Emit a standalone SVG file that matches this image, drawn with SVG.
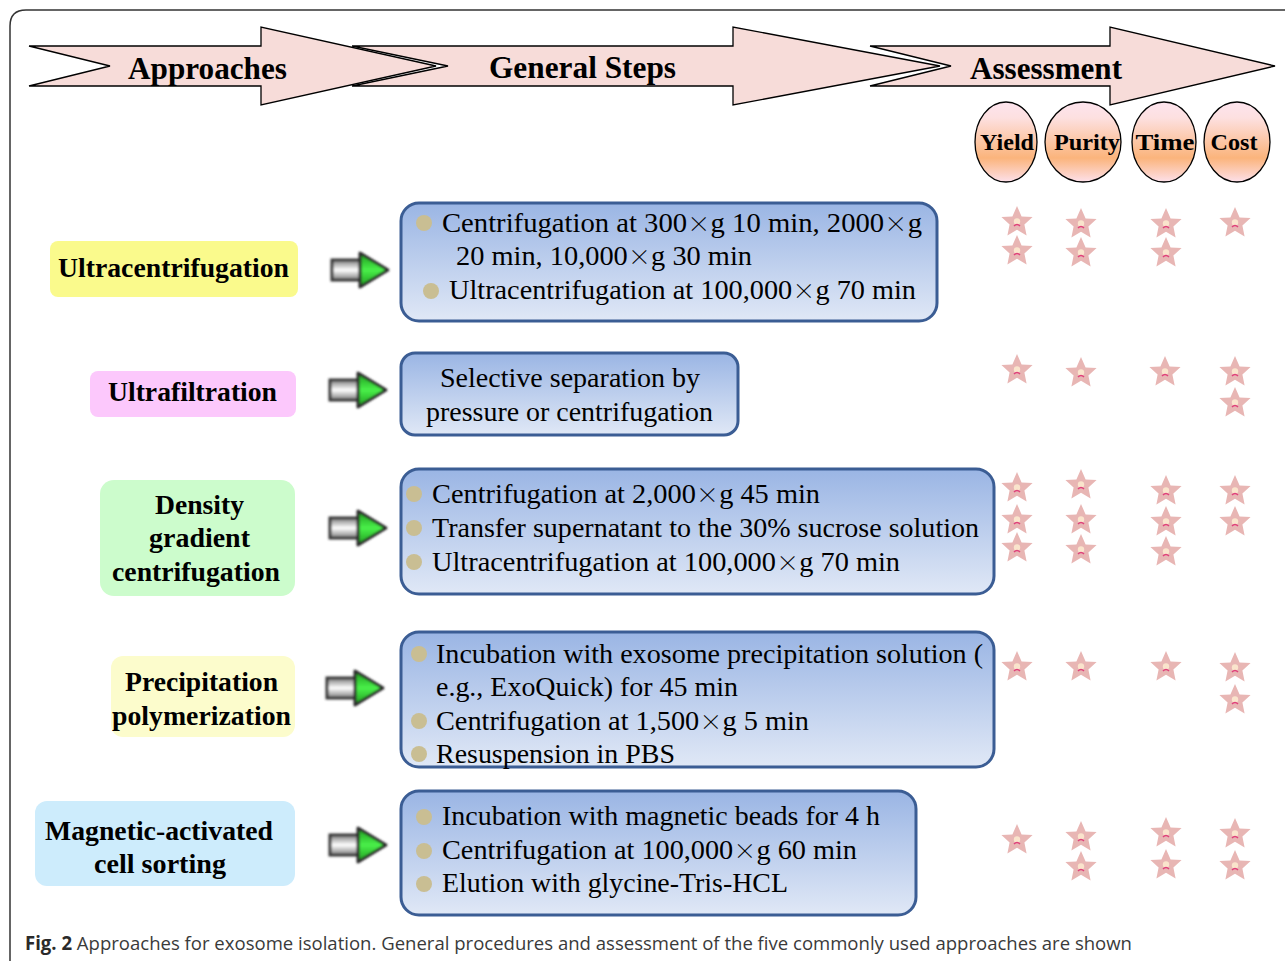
<svg xmlns="http://www.w3.org/2000/svg" xmlns:xlink="http://www.w3.org/1999/xlink" width="1285" height="961" viewBox="0 0 1285 961">
<style>
.frame{fill:none;stroke:#333;stroke-width:1.5}
.harrow{fill:#f7dcd9;stroke:#000;stroke-width:1.3;stroke-linejoin:miter}
.serif{font-family:'Liberation Serif','Times New Roman',serif}
.x{font-family:'Noto Serif CJK SC','Noto Sans CJK SC',serif;font-size:23px}
.htxt{font-weight:bold;font-size:31px;fill:#000}
.ell{stroke:#000;stroke-width:1.3;fill:url(#gOrange)}
.etxt{font-weight:bold;font-size:24px;fill:#000;text-anchor:middle}
.ltxt{font-weight:bold;font-size:28px;fill:#000}
.step{fill:url(#gBlue);stroke:#3b5d94;stroke-width:3}
.stxt{font-size:28px;fill:#000}
.bul{fill:#c9be93}
.cap{font-family:'Open Sans',sans-serif;font-size:19px;fill:#3a3a3a}
</style>
<defs>
<linearGradient id="gOrange" x1="0" y1="0" x2="0" y2="1">
<stop offset="0" stop-color="#fde4ee"/>
<stop offset="0.2" stop-color="#fde0e0"/>
<stop offset="0.7" stop-color="#fbb47c"/>
<stop offset="1" stop-color="#fde0ea"/>
</linearGradient>
<linearGradient id="gBlue" x1="0" y1="0" x2="0" y2="1">
<stop offset="0" stop-color="#9ab5e4"/>
<stop offset="1" stop-color="#e0e8f6"/>
</linearGradient>
<linearGradient id="gShaft" x1="0" y1="0" x2="0" y2="1">
<stop offset="0" stop-color="#7a7a7a"/>
<stop offset="0.5" stop-color="#ffffff"/>
<stop offset="1" stop-color="#7a7a7a"/>
</linearGradient>
<linearGradient id="gHead" x1="0" y1="0" x2="0" y2="1">
<stop offset="0" stop-color="#1c9a1c"/>
<stop offset="0.5" stop-color="#4af04a"/>
<stop offset="1" stop-color="#1c9a1c"/>
</linearGradient>
<filter id="soft" x="-20%" y="-30%" width="140%" height="160%">
<feGaussianBlur stdDeviation="1.2"/>
</filter>
<g id="garrow" filter="url(#soft)">
<rect x="0" y="-10" width="30" height="20" fill="url(#gShaft)" stroke="#3a3a3a" stroke-width="3"/>
<polygon points="28,-17 56,0 28,17" fill="url(#gHead)" stroke="#2a2a2a" stroke-width="3" stroke-linejoin="round"/>
</g>
<g id="star">
<polygon points="0,-16 4.6,-5.6 15.6,-4.9 7.4,2.4 9.6,13.4 0,7.8 -9.6,13.4 -7.4,2.4 -15.6,-4.9 -4.6,-5.6" fill="#e8b6b4"/>
<circle cx="0" cy="-0.5" r="3.2" fill="#fae4cc"/>
<path d="M-3,4 Q0,1 3,4" fill="none" stroke="#e0407a" stroke-width="1.5"/>
</g>
</defs>

<path class="frame" d="M10,961 L10,26 Q10,10 26,10 L1285,10"/>

<g id="header" class="serif">
<polygon class="harrow" points="29,46 261,46 261,27 436,66 261,105 261,86 29,86 110,66"/>
<polygon class="harrow" points="352,46 733,46 733,27 940,66 733,105 733,86 352,86 448,66"/>
<polygon class="harrow" points="870,46 1110,46 1110,27 1275,66 1110,105 1110,86 870,86 951,66"/>
<text class="htxt" x="128" y="79" textLength="159" lengthAdjust="spacingAndGlyphs">Approaches</text>
<text class="htxt" x="489" y="78" textLength="187" lengthAdjust="spacingAndGlyphs">General Steps</text>
<text class="htxt" x="970" y="79" textLength="152" lengthAdjust="spacingAndGlyphs">Assessment</text>
</g>

<g id="criteria" class="serif">
<ellipse class="ell" cx="1006" cy="142" rx="31" ry="40"/>
<ellipse class="ell" cx="1083" cy="142" rx="38" ry="40"/>
<ellipse class="ell" cx="1164" cy="142" rx="32" ry="40"/>
<ellipse class="ell" cx="1237" cy="142" rx="33" ry="40"/>
<text class="etxt" x="1007" y="150" textLength="54" lengthAdjust="spacingAndGlyphs">Yield</text>
<text class="etxt" x="1087" y="150" textLength="66" lengthAdjust="spacingAndGlyphs">Purity</text>
<text class="etxt" x="1165" y="150" textLength="59" lengthAdjust="spacingAndGlyphs">Time</text>
<text class="etxt" x="1234" y="150" textLength="47" lengthAdjust="spacingAndGlyphs">Cost</text>
</g>

<g id="approach-ultracentrifugation" class="serif">
<rect x="50" y="241" width="248" height="56" rx="8" fill="#fafa8c"/>
<text class="ltxt" x="58" y="277" textLength="231" lengthAdjust="spacingAndGlyphs">Ultracentrifugation</text>
</g>
<g id="approach-ultrafiltration" class="serif">
<rect x="90" y="371" width="206" height="46" rx="8" fill="#fcc8fc"/>
<text class="ltxt" x="108" y="401" textLength="169" lengthAdjust="spacingAndGlyphs">Ultrafiltration</text>
</g>
<g id="approach-density" class="serif">
<rect x="100" y="480" width="195" height="116" rx="14" fill="#ccfccc"/>
<text class="ltxt" x="155" y="514" textLength="89" lengthAdjust="spacingAndGlyphs">Density</text>
<text class="ltxt" x="149" y="547" textLength="101" lengthAdjust="spacingAndGlyphs">gradient</text>
<text class="ltxt" x="112" y="581" textLength="168" lengthAdjust="spacingAndGlyphs">centrifugation</text>
</g>
<g id="approach-precipitation" class="serif">
<rect x="111" y="656" width="184" height="81" rx="12" fill="#fcfccc"/>
<text class="ltxt" x="125" y="691" textLength="153" lengthAdjust="spacingAndGlyphs">Precipitation</text>
<text class="ltxt" x="112" y="725" textLength="179" lengthAdjust="spacingAndGlyphs">polymerization</text>
</g>
<g id="approach-macs" class="serif">
<rect x="35" y="801" width="260" height="85" rx="12" fill="#cdecfc"/>
<text class="ltxt" x="45" y="840" textLength="228" lengthAdjust="spacingAndGlyphs">Magnetic-activated</text>
<text class="ltxt" x="94" y="873" textLength="132" lengthAdjust="spacingAndGlyphs">cell sorting</text>
</g>

<g id="connectors">
<use xlink:href="#garrow" x="332" y="270"/>
<use xlink:href="#garrow" x="330" y="390"/>
<use xlink:href="#garrow" x="330" y="528"/>
<use xlink:href="#garrow" x="327" y="688"/>
<use xlink:href="#garrow" x="330" y="845"/>
</g>

<g id="steps-ultracentrifugation" class="serif">
<rect class="step" x="401" y="203" width="536" height="118" rx="18"/>
<circle class="bul" cx="424" cy="223" r="8"/>
<circle class="bul" cx="431" cy="291" r="8"/>
<text class="stxt" x="442" y="232" textLength="480" lengthAdjust="spacingAndGlyphs">Centrifugation at 300<tspan class="x">×</tspan>g 10 min, 2000<tspan class="x">×</tspan>g</text>
<text class="stxt" x="456" y="265" textLength="296" lengthAdjust="spacingAndGlyphs">20 min, 10,000<tspan class="x">×</tspan>g 30 min</text>
<text class="stxt" x="449" y="299" textLength="467" lengthAdjust="spacingAndGlyphs">Ultracentrifugation at 100,000<tspan class="x">×</tspan>g 70 min</text>
</g>
<g id="steps-ultrafiltration" class="serif">
<rect class="step" x="401" y="353" width="337" height="82" rx="14"/>
<text class="stxt" x="440" y="387" textLength="260" lengthAdjust="spacingAndGlyphs">Selective separation by</text>
<text class="stxt" x="426" y="421" textLength="287" lengthAdjust="spacingAndGlyphs">pressure or centrifugation</text>
</g>
<g id="steps-density" class="serif">
<rect class="step" x="401" y="469" width="593" height="125" rx="18"/>
<circle class="bul" cx="414" cy="494" r="8"/>
<circle class="bul" cx="414" cy="528" r="8"/>
<circle class="bul" cx="414" cy="562" r="8"/>
<text class="stxt" x="432" y="503" textLength="388" lengthAdjust="spacingAndGlyphs">Centrifugation at 2,000<tspan class="x">×</tspan>g 45 min</text>
<text class="stxt" x="432" y="537" textLength="547" lengthAdjust="spacingAndGlyphs">Transfer supernatant to the 30% sucrose solution</text>
<text class="stxt" x="432" y="571" textLength="468" lengthAdjust="spacingAndGlyphs">Ultracentrifugation at 100,000<tspan class="x">×</tspan>g 70 min</text>
</g>
<g id="steps-precipitation" class="serif">
<rect class="step" x="401" y="632" width="593" height="135" rx="18"/>
<circle class="bul" cx="419" cy="654" r="8"/>
<circle class="bul" cx="419" cy="721" r="8"/>
<circle class="bul" cx="419" cy="754" r="8"/>
<text class="stxt" x="436" y="663" textLength="547" lengthAdjust="spacingAndGlyphs">Incubation with exosome precipitation solution (</text>
<text class="stxt" x="436" y="696" textLength="302" lengthAdjust="spacingAndGlyphs">e.g., ExoQuick) for 45 min</text>
<text class="stxt" x="436" y="730" textLength="373" lengthAdjust="spacingAndGlyphs">Centrifugation at 1,500<tspan class="x">×</tspan>g 5 min</text>
<text class="stxt" x="436" y="763" textLength="239" lengthAdjust="spacingAndGlyphs">Resuspension in PBS</text>
</g>
<g id="steps-macs" class="serif">
<rect class="step" x="401" y="791" width="515" height="124" rx="18"/>
<circle class="bul" cx="424" cy="817" r="8"/>
<circle class="bul" cx="424" cy="851" r="8"/>
<circle class="bul" cx="424" cy="884" r="8"/>
<text class="stxt" x="442" y="825" textLength="438" lengthAdjust="spacingAndGlyphs">Incubation with magnetic beads for 4 h</text>
<text class="stxt" x="442" y="859" textLength="415" lengthAdjust="spacingAndGlyphs">Centrifugation at 100,000<tspan class="x">×</tspan>g 60 min</text>
<text class="stxt" x="442" y="892" textLength="346" lengthAdjust="spacingAndGlyphs">Elution with glycine-Tris-HCL</text>
</g>

<g id="stars">
<use xlink:href="#star" x="1017" y="222"/><use xlink:href="#star" x="1017" y="251"/>
<use xlink:href="#star" x="1081" y="224"/><use xlink:href="#star" x="1081" y="253"/>
<use xlink:href="#star" x="1166" y="224"/><use xlink:href="#star" x="1166" y="253"/>
<use xlink:href="#star" x="1235" y="223"/>

<use xlink:href="#star" x="1017" y="370"/>
<use xlink:href="#star" x="1081" y="373"/>
<use xlink:href="#star" x="1165" y="372"/>
<use xlink:href="#star" x="1235" y="372"/><use xlink:href="#star" x="1235" y="403"/>

<use xlink:href="#star" x="1017" y="488"/><use xlink:href="#star" x="1017" y="520"/><use xlink:href="#star" x="1017" y="548"/>
<use xlink:href="#star" x="1081" y="485"/><use xlink:href="#star" x="1081" y="520"/><use xlink:href="#star" x="1081" y="550"/>
<use xlink:href="#star" x="1166" y="491"/><use xlink:href="#star" x="1166" y="522"/><use xlink:href="#star" x="1166" y="552"/>
<use xlink:href="#star" x="1235" y="491"/><use xlink:href="#star" x="1235" y="522"/>

<use xlink:href="#star" x="1017" y="667"/>
<use xlink:href="#star" x="1081" y="667"/>
<use xlink:href="#star" x="1166" y="667"/>
<use xlink:href="#star" x="1235" y="668"/><use xlink:href="#star" x="1235" y="700"/>

<use xlink:href="#star" x="1017" y="840"/>
<use xlink:href="#star" x="1081" y="837"/><use xlink:href="#star" x="1081" y="867"/>
<use xlink:href="#star" x="1166" y="833"/><use xlink:href="#star" x="1166" y="865"/>
<use xlink:href="#star" x="1235" y="834"/><use xlink:href="#star" x="1235" y="866"/>
</g>

<g id="caption">
<text class="cap" x="25" y="950" textLength="1107" lengthAdjust="spacingAndGlyphs"><tspan font-weight="bold" fill="#2a2a2a">Fig. 2</tspan> Approaches for exosome isolation. General procedures and assessment of the five commonly used approaches are shown</text>
</g>
</svg>
